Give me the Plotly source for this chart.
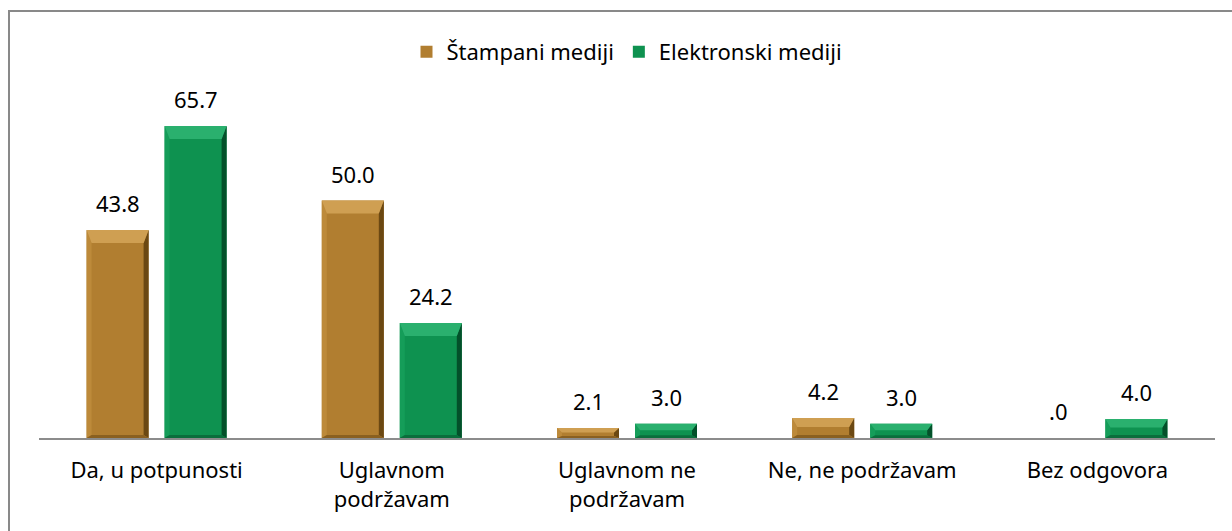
import plotly.graph_objects as go

# Survey answers and the share (%) for each media type
categories = ["Da, u potpunosti", "Uglavnom<br>podržavam", "Uglavnom ne<br>podržavam",
              "Ne, ne podržavam", "Bez odgovora"]
series_names = ["Štampani mediji", "Elektronski mediji"]
stampani = [43.8, 50.0, 2.1, 4.2, 0.0]
elektronski = [65.7, 24.2, 3.0, 3.0, 4.0]

# Layout geometry (pixels)
W, H = 1232, 531
M_L, M_R, M_T, M_B = 39, 17, 80, 93
PLOT_W = W - M_L - M_R
PLOT_H = H - M_T - M_B
Y_MAX = 75.4
PX_X = PLOT_W / len(categories)
PX_Y = PLOT_H / Y_MAX

BAR_W = 62 / PX_X
BAR_SHIFT = 39 / PX_X

FONT = "Noto Sans, Open Sans, sans-serif"
FSIZE = 22

styles = [
    dict(face="#B17E30", top="#CF9F52", left="#BD8A3A", right="#6B4812", bottom="#8A6020"),
    dict(face="#0E9250", top="#2AB06E", left="#159D59", right="#03502A", bottom="#0A6E3C"),
]

x_pos = list(range(len(categories)))
fig = go.Figure()
shapes = []

for s_idx, (name, vals) in enumerate(zip(series_names, [stampani, elektronski])):
    st = styles[s_idx]
    shift = -BAR_SHIFT if s_idx == 0 else BAR_SHIFT
    xs = [x + shift for x in x_pos]
    fig.add_trace(go.Bar(
        x=xs, y=vals, width=BAR_W, name=name,
        marker=dict(color=st["face"], line=dict(width=0)),
    ))
    # bevel facets on each bar, sized in pixels and converted to data units
    for xc, v in zip(xs, vals):
        if v <= 0:
            continue
        h_px = v * PX_Y
        t_px = min(13.0, h_px * 0.45)
        b_px = min(3.0, h_px * 0.2)
        s_px = min(5.0, h_px * 0.5)
        dx = s_px / PX_X
        dt = t_px / PX_Y
        db = b_px / PX_Y
        x0, x1 = xc - BAR_W / 2, xc + BAR_W / 2
        facets = [
            (st["left"], [(x0, v), (x0 + dx, v - dt), (x0 + dx, db), (x0, 0)]),
            (st["right"], [(x1, v), (x1, 0), (x1 - dx, db), (x1 - dx, v - dt)]),
            (st["bottom"], [(x0, 0), (x0 + dx, db), (x1 - dx, db), (x1, 0)]),
            (st["top"], [(x0, v), (x1, v), (x1 - dx, v - dt), (x0 + dx, v - dt)]),
        ]
        for col, pts in facets:
            path = "M " + " L ".join(f"{px},{py}" for px, py in pts) + " Z"
            shapes.append(dict(type="path", path=path, xref="x", yref="y",
                               fillcolor=col, line=dict(width=0), layer="above"))
    # value labels above the bars
    for xc, v in zip(xs, vals):
        txt = f"{v:.1f}"
        if txt.startswith("0"):
            txt = txt[1:]
        fig.add_annotation(x=xc, y=v, text=txt, showarrow=False, yanchor="middle",
                           yshift=27, font=dict(family=FONT, size=FSIZE, color="#000000"))

# chart frame
shapes.append(dict(type="rect", xref="paper", yref="paper",
                   x0=(9 - M_L) / PLOT_W, x1=(W + 10 - M_L) / PLOT_W,
                   y0=(H - M_B - (H + 10)) / PLOT_H, y1=(H - M_B - 11) / PLOT_H,
                   line=dict(color="#898989", width=2), fillcolor="rgba(0,0,0,0)",
                   layer="below"))

fig.update_layout(
    width=W, height=H,
    margin=dict(l=M_L, r=M_R, t=M_T, b=M_B),
    paper_bgcolor="white", plot_bgcolor="white",
    barmode="overlay",
    showlegend=True,
    legend=dict(orientation="h", x=0.5, xanchor="center",
                y=(H - M_B - 52) / PLOT_H, yanchor="middle",
                font=dict(family=FONT, size=FSIZE, color="#000000"),
                itemwidth=30, traceorder="normal"),
    xaxis=dict(range=[-0.5, len(categories) - 0.5], tickvals=x_pos, ticktext=categories,
               showgrid=False, zeroline=False, showline=True, linecolor="#8C8C8C",
               linewidth=2, ticks="", ticklabelstandoff=12,
               tickfont=dict(family=FONT, size=FSIZE, color="#000000")),
    yaxis=dict(range=[0, Y_MAX], visible=False, showgrid=False, zeroline=False),
    shapes=shapes,
)

fig.write_html("out.html")
